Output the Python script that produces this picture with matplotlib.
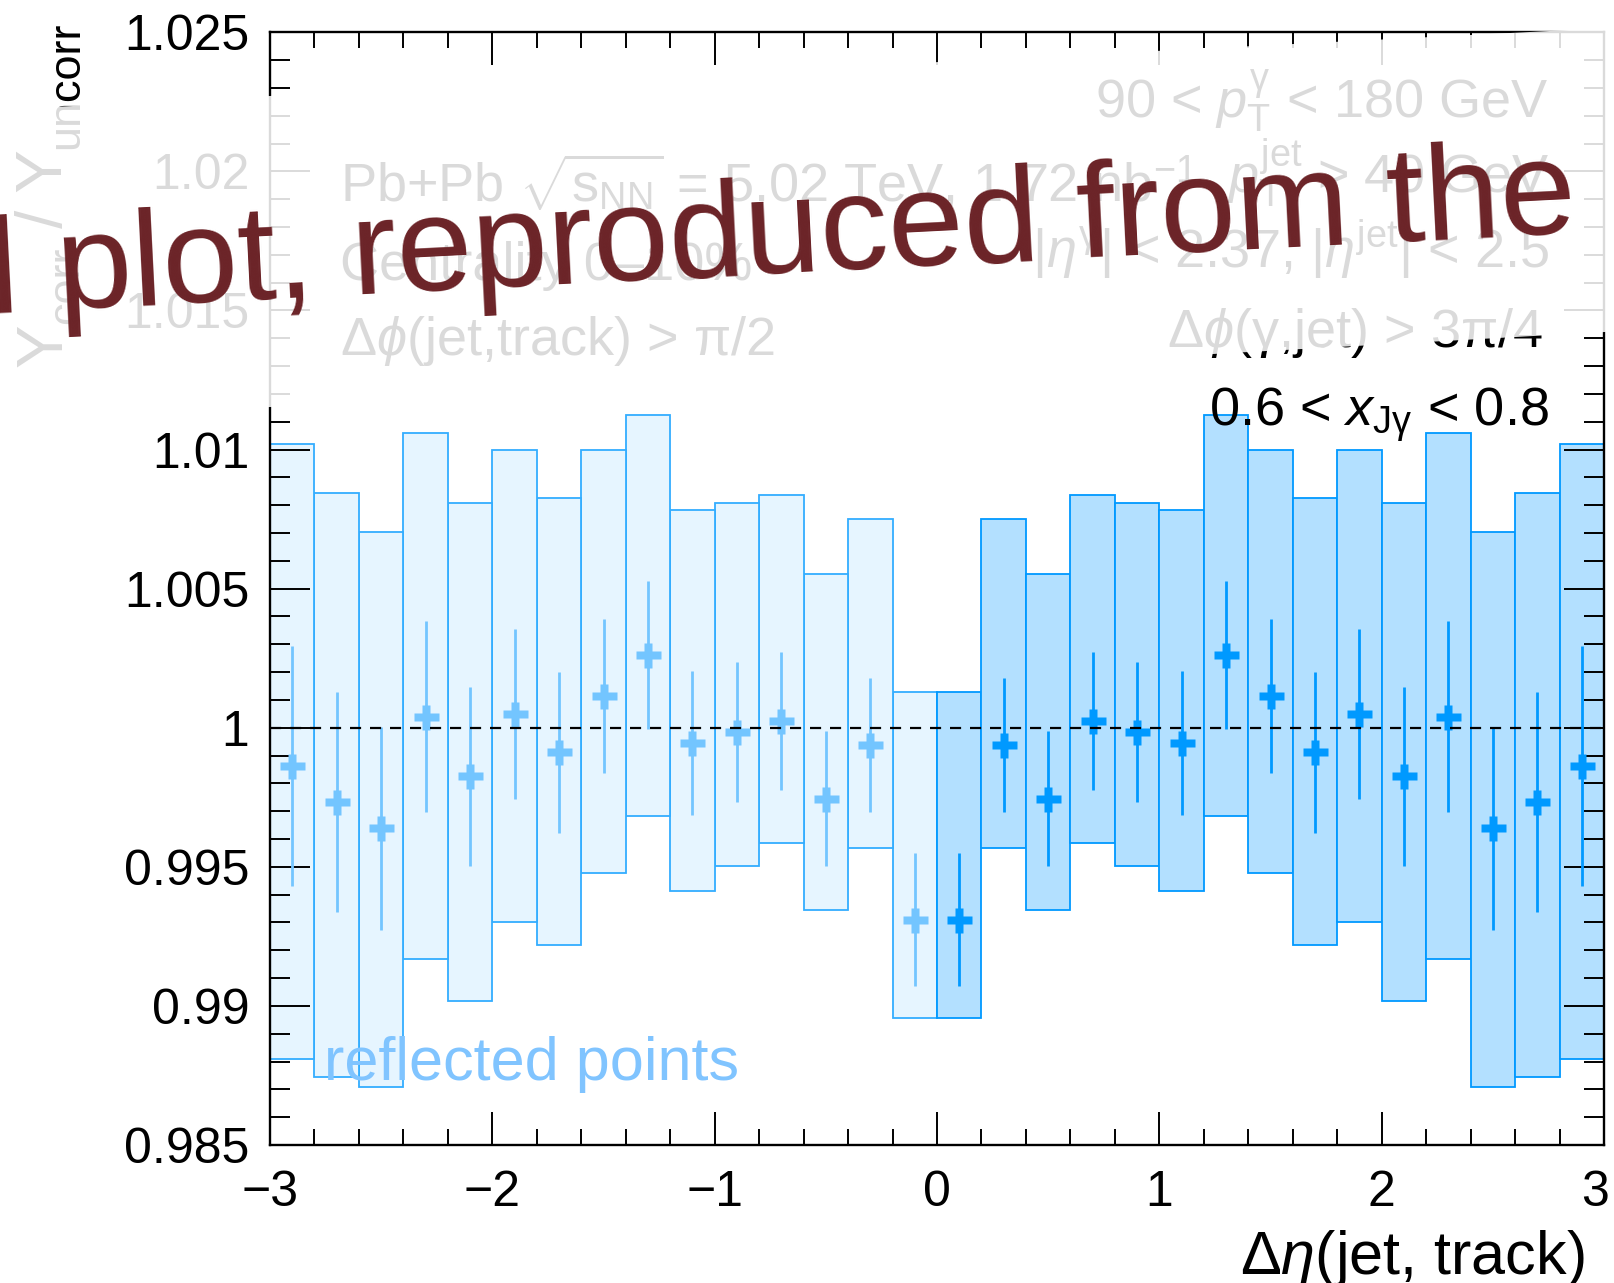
import numpy as np
import matplotlib
matplotlib.use("Agg")
import matplotlib.pyplot as plt
from matplotlib.ticker import MultipleLocator, FormatStrFormatter
from matplotlib.patches import Polygon
from matplotlib.transforms import ScaledTranslation

plt.rcParams["font.family"] = ["Liberation Sans", "DejaVu Sans"]
plt.rcParams["mathtext.fontset"] = "custom"
plt.rcParams["mathtext.rm"] = "Liberation Sans"
plt.rcParams["mathtext.it"] = "Liberation Sans:italic"
plt.rcParams["mathtext.bf"] = "Liberation Sans:bold"

# Bin centres in Delta eta (positive side); the negative side is the reflection
deta = [0.1, 0.3, 0.5, 0.7, 0.9, 1.1, 1.3, 1.5, 1.7, 1.9, 2.1, 2.3, 2.5, 2.7, 2.9]
ratio = [0.99310, 0.99938, 0.99745, 1.00024, 0.99986, 0.99946, 1.00263, 1.00114,
         0.99912, 1.00050, 0.99826, 1.00040, 0.99638, 0.99734, 0.99862]
stat_err = [0.00239, 0.00240, 0.00243, 0.00248, 0.00252, 0.00259, 0.00266, 0.00278,
            0.00290, 0.00305, 0.00322, 0.00343, 0.00366, 0.00395, 0.00432]
sys_high = [1.00129, 1.00751, 1.00554, 1.00838, 1.00808, 1.00784, 1.01123, 1.00997,
            1.00825, 1.00997, 1.00808, 1.01060, 1.00703, 1.00844, 1.01020]
sys_low = [0.98958, 0.99566, 0.99343, 0.99584, 0.99504, 0.99413, 0.99683, 0.99477,
           0.99218, 0.99303, 0.99017, 0.99170, 0.98708, 0.98744, 0.98808]
bin_width = 0.2

x_ticks = [-3, -2, -1, 0, 1, 2, 3]
y_ticks = [0.985, 0.99, 0.995, 1.0, 1.005, 1.01, 1.015, 1.02, 1.025]

W, H = 1614, 1283
fig = plt.figure(figsize=(W / 100, H / 100), dpi=100)
ax = fig.add_axes([270 / W, 1 - 1145 / H, (1604 - 270) / W, (1145 - 32.3) / H])

x_pos = np.array(deta)
x_ref = -x_pos
lo = np.array(sys_low)
hi = np.array(sys_high)

dark = "#0099ff"
ax.bar(x_ref, hi - lo, bottom=lo, width=bin_width, color="#e6f5ff",
       edgecolor="#33adff", linewidth=1.3, zorder=1)
ax.bar(x_pos, hi - lo, bottom=lo, width=bin_width, color="#b3e0ff",
       edgecolor=dark, linewidth=1.3, zorder=1.5)

ax.errorbar(x_ref, ratio, yerr=stat_err, fmt="P", ms=18, color="#73c5ff",
            mec="none", elinewidth=2.0, capsize=0, zorder=2)
ax.errorbar(x_pos, ratio, yerr=stat_err, fmt="P", ms=18, color=dark,
            mec="none", elinewidth=2.0, capsize=0, zorder=2.5)

ax.axhline(1.0, color="black", lw=1.6, ls=(0, (5, 4)), zorder=3)

ax.set_xlim(-3, 3)
ax.set_ylim(0.985, 1.025)
ax.set_xticks(x_ticks)
ax.set_yticks(y_ticks)
ax.xaxis.set_minor_locator(MultipleLocator(0.2))
ax.yaxis.set_minor_locator(MultipleLocator(0.001))
ax.yaxis.set_major_formatter(FormatStrFormatter("%g"))
ax.tick_params(which="both", direction="in", top=True, right=True,
               width=1.4, labelsize=36)
ax.tick_params(axis="x", which="major", length=24, pad=18)
ax.tick_params(axis="x", which="minor", length=11.5)
ax.tick_params(axis="y", which="major", length=29, pad=15)
ax.tick_params(axis="y", which="minor", length=14.5)
for s in ax.spines.values():
    s.set_linewidth(1.7)

# keep the last x label inside the canvas
last = ax.xaxis.get_major_ticks()[-1].label1
last.set_transform(last.get_transform()
                   + ScaledTranslation(-9 / 100, 0, fig.dpi_scale_trans))

# x-axis title
fig.text(1585 / W, 1 - 1274 / H, r"$\Delta\eta$(jet, track)", ha="right",
         va="baseline", fontsize=44)

# y-axis title, assembled piece by piece with lowered subscripts
renderer = fig.canvas.get_renderer()


def ink_width(s, size):
    t = fig.text(0, 0, s, fontsize=size)
    w = t.get_window_extent(renderer).width
    t.remove()
    return w


def advance_width(s, size):
    # bracket with bars so that spaces and side bearings are counted
    return ink_width("|" + s + "|", size) - ink_width("||", size)


ylabel_parts = [("Y", 47, 0), ("corr", 32.5, 16), (" / Y", 47, 0), ("uncorr", 32.5, 16)]
cursor = H - 367
base_x = 62
for s, size, drop in ylabel_parts:
    fig.text((base_x + drop) / W, cursor / H, s, rotation=90,
             rotation_mode="anchor", ha="left", va="baseline", fontsize=size)
    cursor += advance_width(s, size)

# Event selection labels
fs = 39
fig.text(340 / W, 1 - 203 / H,
         r"Pb+Pb $\sqrt{\mathrm{s}_{\mathrm{NN}}}$ = 5.02 TeV, 1.72 nb$^{\mathrm{-1}}$",
         ha="left", va="baseline", fontsize=fs)
fig.text(340 / W, 1 - 280 / H, "Centrality 0\u201310%", ha="left",
         va="baseline", fontsize=fs)
fig.text(340 / W, 1 - 355 / H, r"$\Delta\phi$(jet,track) > $\mathrm{\pi}$/2",
         ha="left", va="baseline", fontsize=fs)

fig.text(1549 / W, 1 - 118 / H,
         r"90 < $p_{\mathrm{T}}^{\mathrm{\gamma}}$ < 180 GeV",
         ha="right", va="baseline", fontsize=fs)
fig.text(1549 / W, 1 - 193 / H, r"$p_{\mathrm{T}}^{\mathrm{jet}}$ > 40 GeV",
         ha="right", va="baseline", fontsize=fs)
fig.text(1549 / W, 1 - 268 / H,
         r"|$\eta^{\mathrm{\gamma}}$| < 2.37, |$\eta^{\mathrm{jet}}$| < 2.5",
         ha="right", va="baseline", fontsize=fs)
fig.text(1543 / W, 1 - 347 / H,
         r"$\Delta\phi$($\mathrm{\gamma}$,jet) > 3$\mathrm{\pi}$/4",
         ha="right", va="baseline", fontsize=fs)
fig.text(1549 / W, 1 - 426 / H,
         r"0.6 < $x_{\mathrm{J\gamma}}$ < 0.8",
         ha="right", va="baseline", fontsize=fs, zorder=5)

fig.text(324 / W, 1 - 1080 / H, "reflected points", ha="left",
         va="baseline", fontsize=44, color="#80c4ff")

# Translucent white band across the upper part
def band_y(x, y0, slope):
    return y0 - slope * (x - 270)

xs = [-20, W + 20]
top = [band_y(x, 96, 0.0508) for x in xs]
bot = [band_y(x, 407, 0.0562) for x in xs]
verts = [(xs[0] / W, 1 - top[0] / H), (xs[1] / W, 1 - top[1] / H),
         (xs[1] / W, 1 - bot[1] / H), (xs[0] / W, 1 - bot[0] / H)]
band = Polygon(verts, closed=True, transform=fig.transFigure,
               facecolor="white", edgecolor="none", alpha=0.86, zorder=10)
fig.add_artist(band)

fig.text(-9 / W, 1 - 313.5 / H, "l plot, reproduced from the", rotation=2.9,
         rotation_mode="anchor", ha="left", va="baseline", fontsize=98,
         color="#6b2327", zorder=20)

fig.savefig("out.png", dpi=100)
